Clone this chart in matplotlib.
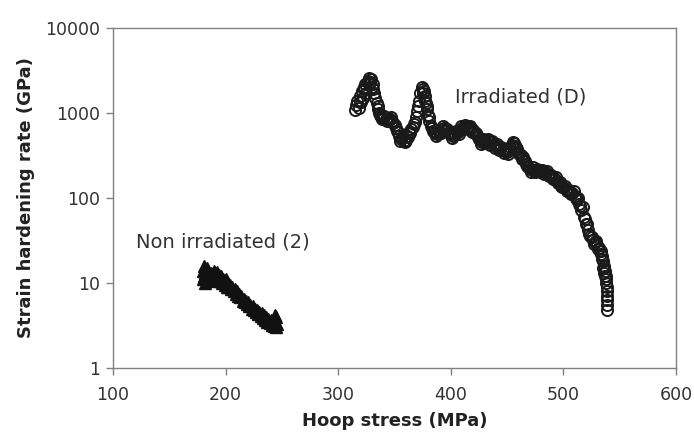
import matplotlib
matplotlib.use("Agg")
from matplotlib import pyplot as plt
from matplotlib.ticker import FixedLocator, NullLocator

# Irradiated (D) - open circles
irr_stress = [315, 316, 317, 318, 319, 320, 321, 322, 323, 324, 325, 326, 327, 328, 329,
              330, 331, 332, 333, 334, 335, 336, 337, 338, 340, 342, 344, 346, 348, 350,
              352, 354, 356, 358, 360, 362, 364, 366, 368, 369, 370, 371, 372, 373, 374,
              375, 376, 377, 378, 379, 380, 381, 382, 384, 386, 388, 390, 392, 394, 396,
              398, 400, 402, 404, 406, 408, 410, 412, 414, 416, 418, 420, 422, 424, 426,
              428, 430, 432, 434, 436, 438, 440, 442, 444, 446, 448, 450, 452, 454, 456,
              458, 460, 462, 464, 466, 468, 470, 472, 474, 476, 478, 480, 482, 484, 486,
              488, 490, 492, 494, 496, 498, 500, 502, 504, 506, 508, 510, 512, 514, 516,
              518, 520, 522, 524, 526, 528, 530, 532, 533, 534, 535, 535, 536, 537, 538,
              538, 539, 539, 539, 539, 539, 539]
irr_rate = [1080, 1250, 1400, 1150, 1600, 1350, 1800, 1500, 2000, 2200, 1700, 2400, 2600, 2300, 2500,
            2000, 2200, 1700, 1500, 1300, 1100, 1000, 950, 900, 880, 850, 880, 850, 800, 720,
            620, 540, 500, 470, 480, 520, 580, 680, 780, 900, 1050, 1200, 1400, 1700, 2000,
            1900, 1800, 1600, 1300, 1100, 950, 800, 700, 620, 580, 570, 600, 640, 660, 650,
            600, 560, 540, 560, 600, 630, 660, 680, 690, 680, 660, 630, 580, 520, 480,
            460, 470, 480, 470, 450, 430, 410, 400, 390, 370, 360, 350, 380, 420, 440,
            400, 350, 320, 300, 270, 240, 220, 215, 215, 210, 210, 212, 208, 200, 190,
            180, 175, 170, 160, 150, 140, 134, 128, 122, 118, 115, 105, 95, 85, 72,
            60, 50, 42, 36, 32, 30, 28, 26, 24, 21, 18, 15, 13, 12, 11,
            10, 9, 8, 7, 6.3, 5.5, 4.8]

# extra readings of the same run (the band is dense and thick)
irr_stress_b = [319, 323, 327, 331, 335, 339, 341, 343, 345, 347, 349, 351, 353, 355, 357,
                359, 361, 363, 365, 367, 375, 377, 379, 381, 383, 385, 387, 389, 391, 393,
                395, 397, 399, 401, 403, 405, 407, 409, 411, 413, 415, 417, 419, 421, 423,
                425, 427, 429, 431, 433, 435, 437, 439, 441, 443, 445, 447, 449, 451, 453,
                455, 457, 459, 461, 463, 465, 467, 469, 471, 473, 475, 477, 479, 481, 483,
                485, 487, 489, 491, 493, 495, 497, 499, 501, 503, 505, 507, 509, 511, 513,
                515, 517, 519, 521, 523, 525, 527, 529, 531, 533, 534, 536, 537, 538]
irr_rate_b = [1350, 1900, 2200, 1900, 1200, 850, 930, 800, 820, 900, 760, 660, 600, 470, 520,
              450, 540, 600, 650, 740, 1700, 1400, 1200, 900, 660, 600, 540, 620, 580, 700,
              620, 650, 580, 510, 580, 620, 560, 700, 640, 730, 640, 700, 600, 600, 550,
              490, 430, 500, 440, 500, 420, 470, 390, 430, 370, 400, 340, 380, 330, 400,
              460, 410, 380, 330, 290, 280, 250, 230, 200, 230, 200, 220, 200, 215, 190,
              205, 180, 185, 165, 175, 150, 155, 135, 140, 120, 125, 110, 120, 100, 100,
              80, 78, 56, 50, 38, 35, 29, 31, 25, 22, 19, 16, 14, 12]

# Non irradiated (2) - filled triangles
non_stress = [180, 180, 181, 181, 182, 182, 183, 184, 185, 186, 187, 188, 189, 190, 191,
              192, 193, 194, 195, 196, 197, 198, 199, 200, 201, 202, 203, 204, 205, 206,
              207, 208, 209, 210, 211, 212, 213, 214, 215, 216, 217, 218, 219, 220, 221,
              222, 223, 224, 225, 226, 227, 228, 229, 230, 231, 232, 233, 234, 235, 236,
              237, 238, 239, 240, 241, 242, 243, 244, 245, 245, 244, 246]
non_rate = [14, 11, 16, 12, 13, 10, 15, 11, 12, 10.5, 13, 11, 12.5, 14, 12,
            13.5, 11, 12.5, 10.5, 12, 10, 11, 9.5, 11, 9, 10, 9, 9.5, 8.5, 9,
            8, 8.5, 7.5, 8, 7, 7.5, 6.8, 7, 6.2, 6.5, 6, 6.2, 5.6, 6, 5.3,
            5.5, 5, 5.3, 4.8, 5, 4.6, 4.8, 4.3, 4.6, 4.1, 4.4, 3.9, 4.2, 3.7, 4,
            3.5, 3.8, 3.4, 3.7, 3.2, 3.6, 3.1, 3.5, 3.0, 4, 4.2, 3.3]

y_ticks = [1, 10, 100, 1000, 10000]
y_labels = ["1", "10", "100", "1000", "10000"]
x_ticks = [100, 200, 300, 400, 500, 600]

plt.rcParams['font.family'] = ['DejaVu Sans']

fig = plt.figure(figsize=(6.94, 4.36), dpi=100)
ax = fig.add_axes([0.163, 0.156, 0.811, 0.780])

# hollow circles, so the overlapping outlines build up the dark band
circle_style = dict(linestyle='none', marker='o', markersize=8,
                    markerfacecolor='none', markeredgecolor='#1a1a1a', markeredgewidth=1.4)
ax.plot(irr_stress, irr_rate, **circle_style)
ax.plot(irr_stress_b, irr_rate_b, **circle_style)
ax.plot(non_stress, non_rate, linestyle='none', marker='^', markersize=8.5,
        color='#111111')

ax.set_yscale('log')
ax.set_xlim(100, 600)
ax.set_ylim(1, 10000)
ax.yaxis.set_major_locator(FixedLocator(y_ticks))
ax.yaxis.set_minor_locator(NullLocator())
ax.set_yticklabels(y_labels)
ax.set_xticks(x_ticks)

for s in ax.spines.values():
    s.set_color('#808080')
    s.set_linewidth(1.0)
ax.tick_params(axis='both', direction='out', length=5, color='#808080',
               labelsize=12.5, labelcolor='#333333', width=1.0)
ax.tick_params(axis='x', pad=8)
ax.tick_params(axis='y', pad=4)

ax.set_xlabel("Hoop stress (MPa)", fontsize=13, fontweight='bold', color='#222222', labelpad=6)
ax.set_ylabel("Strain hardening rate (GPa)", fontsize=13, fontweight='bold', color='#222222', labelpad=8)

ax.text(404, 1550, "Irradiated (D)", fontsize=14, color='#333333', va='center')
ax.text(120, 30, "Non irradiated (2)", fontsize=14, color='#333333', va='center')

fig.savefig("out.png", dpi=100)
